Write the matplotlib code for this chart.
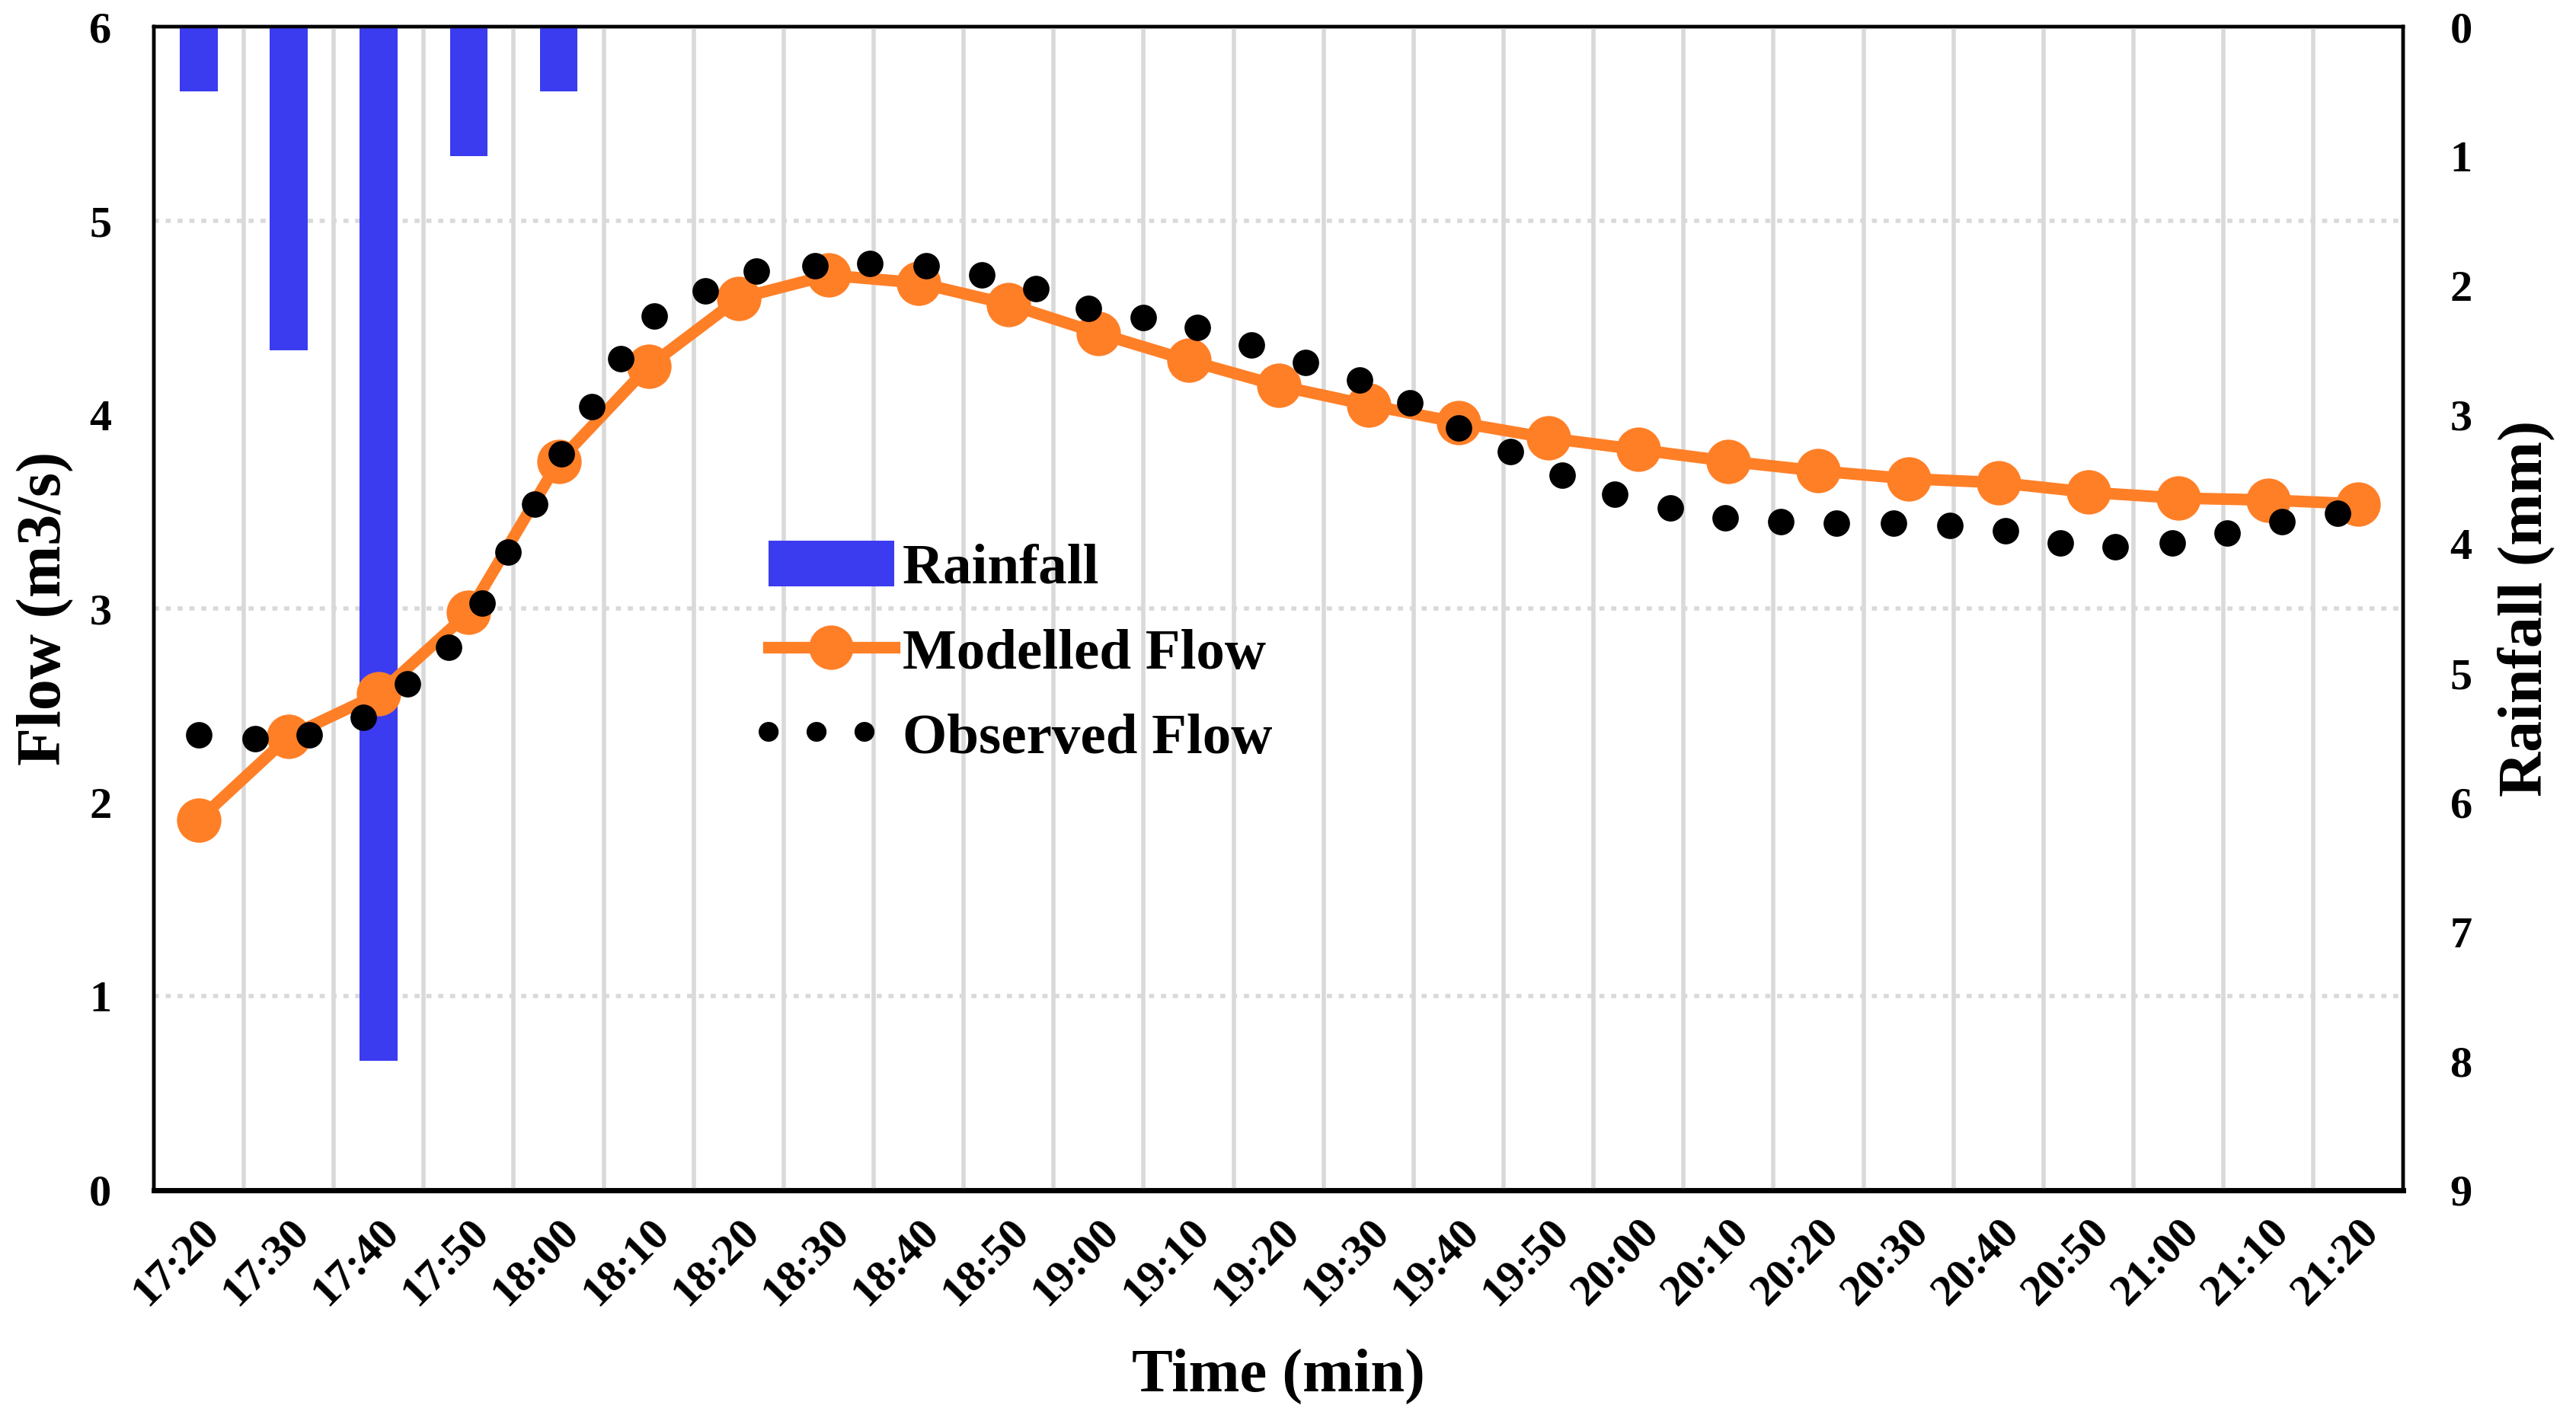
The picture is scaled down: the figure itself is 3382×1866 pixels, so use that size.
import numpy as np
import matplotlib
matplotlib.use("Agg")
import matplotlib.pyplot as plt
from matplotlib.lines import Line2D
from matplotlib.patches import Patch

# ---------------- data ----------------
time_labels = ["17:20", "17:30", "17:40", "17:50", "18:00", "18:10", "18:20", "18:30",
               "18:40", "18:50", "19:00", "19:10", "19:20", "19:30", "19:40", "19:50",
               "20:00", "20:10", "20:20", "20:30", "20:40", "20:50", "21:00", "21:10", "21:20"]

modelled_flow = [1.91, 2.34, 2.56, 2.98, 3.76, 4.25, 4.60, 4.72, 4.68, 4.57,
                 4.42, 4.28, 4.15, 4.05, 3.96, 3.88, 3.82, 3.76, 3.71, 3.67,
                 3.65, 3.60, 3.57, 3.56, 3.54]

rain_times = ["17:20", "17:30", "17:40", "17:50", "18:00"]
rain_mm = [0.5, 2.5, 8.0, 1.0, 0.5]

# observed flow: minutes after 17:20 and flow (m3/s)
obs_minutes = [0, 6.3, 12.3, 18.3, 23.2, 27.8, 31.5, 34.4, 37.3, 40.3, 43.7, 46.9,
               50.6, 56.3, 62.0, 68.5, 74.6, 80.8, 87.0, 93.0, 98.9, 105.0, 111.0,
               117.0, 123.0, 129.0, 134.6, 140.0, 145.8, 151.5, 157.4, 163.5, 169.6,
               175.8, 182.0, 188.3, 194.6, 200.8, 206.9, 213.0, 219.3, 225.4, 231.5, 237.7]
obs_flow = [2.35, 2.33, 2.35, 2.44, 2.61, 2.80, 3.03, 3.29, 3.54, 3.80, 4.04, 4.29,
            4.51, 4.64, 4.74, 4.77, 4.78, 4.77, 4.72, 4.65, 4.55, 4.50, 4.45,
            4.36, 4.27, 4.18, 4.06, 3.93, 3.81, 3.69, 3.59, 3.52, 3.47,
            3.45, 3.44, 3.44, 3.43, 3.40, 3.34, 3.32, 3.34, 3.39, 3.45, 3.49]

flow_ticks = [0, 1, 2, 3, 4, 5, 6]
rain_ticks = [0, 1, 2, 3, 4, 5, 6, 7, 8, 9]
category_minutes = 10

# ---------------- style ----------------
FONT = ["Liberation Serif", "DejaVu Serif"]
plt.rcParams["font.family"] = FONT
plt.rcParams["font.weight"] = "bold"

BLUE = "#3B3BF0"
ORANGE = "#FF7F27"
GRID = "#D9D9D9"

fig, ax = plt.subplots(figsize=(16.91, 9.33), dpi=200)
fig.subplots_adjust(left=0.0597, right=0.933, top=0.981, bottom=0.1624)
ax2 = ax.twinx()
ax.set_zorder(ax2.get_zorder() + 1)
ax.patch.set_visible(False)
ax2.patch.set_visible(True)
ax2.patch.set_facecolor("white")

x = np.arange(len(time_labels))

# rainfall bars on the right (inverted) axis
rain_x = [time_labels.index(t) for t in rain_times]
ax2.bar(rain_x, rain_mm, width=0.42, color=BLUE, zorder=3)
ax2.set_ylim(max(rain_ticks), min(rain_ticks))
ax2.set_yticks(rain_ticks)
# horizontal dotted gridlines at the flow tick positions (drawn beneath the bars)
flow_max = max(flow_ticks)
rain_max = max(rain_ticks)
grid_pos = [(flow_max - f) * rain_max / flow_max for f in flow_ticks[1:-1]]
ax2.set_yticks(grid_pos, minor=True)
ax2.yaxis.grid(True, which="minor", color=GRID, linestyle=(0, (1.2, 1.6)), linewidth=2.0, zorder=0)
ax2.yaxis.grid(False, which="major")
ax2.tick_params(axis="y", which="both", length=0, labelsize=21, pad=22)
ax2.set_ylabel("Rainfall (mm)", fontsize=29.5, fontweight="bold", rotation=90, labelpad=12)

# flow axis
ax.set_xlim(-0.5, len(time_labels) - 0.5)
ax.set_ylim(min(flow_ticks), max(flow_ticks))
ax.set_yticks(flow_ticks)
ax.set_xticks(x)
ax.set_xticklabels(time_labels, rotation=45, ha="right", rotation_mode="anchor")
ax.set_xticks(np.arange(len(time_labels) - 1) + 0.5, minor=True)
ax.xaxis.grid(True, which="minor", color=GRID, linewidth=2.0)
ax.xaxis.grid(False, which="major")
ax.tick_params(axis="both", which="both", length=0)
ax.tick_params(axis="y", labelsize=21, pad=20)
ax.tick_params(axis="x", labelsize=21, pad=10)

ax.plot(x, modelled_flow, color=ORANGE, linewidth=5.5, marker="o", markersize=21,
        markeredgewidth=0, zorder=4)
obs_x = np.array(obs_minutes) / category_minutes
ax.plot(obs_x, obs_flow, linestyle="none", marker="o", markersize=12.5,
        color="black", markeredgewidth=0, zorder=5)

ax.set_ylabel("Flow (m3/s)", fontsize=29.5, fontweight="bold", labelpad=7)
ax.set_xlabel("Time (min)", fontsize=29, fontweight="bold", labelpad=17)

for sp in ax.spines.values():
    sp.set_linewidth(1.6)
    sp.set_color("black")
ax.spines["bottom"].set_linewidth(2.4)
for sp in ax2.spines.values():
    sp.set_linewidth(1.6)
    sp.set_color("black")
ax2.spines["bottom"].set_linewidth(2.4)

for lab in ax.get_xticklabels() + ax.get_yticklabels() + ax2.get_yticklabels():
    lab.set_fontweight("bold")

# legend
h_rain = Patch(facecolor=BLUE, edgecolor="none", label="Rainfall")
h_mod = Line2D([], [], color=ORANGE, linewidth=5.5, marker="o", markersize=21,
               markeredgewidth=0, label="Modelled Flow")
h_obs = Line2D([], [], color="black", linewidth=9.4, linestyle=(0, (0.01, 2.4)),
               dash_capstyle="round", label="Observed Flow")
leg = ax.legend(handles=[h_rain, h_mod, h_obs], loc="upper left",
                bbox_to_anchor=(0.263, 0.578), frameon=False,
                prop={"family": FONT, "weight": "bold", "size": 27},
                handlelength=2.2, handleheight=0.85, handletextpad=0.15,
                labelspacing=0.53, borderaxespad=0)

fig.savefig("out.png", dpi=200)
